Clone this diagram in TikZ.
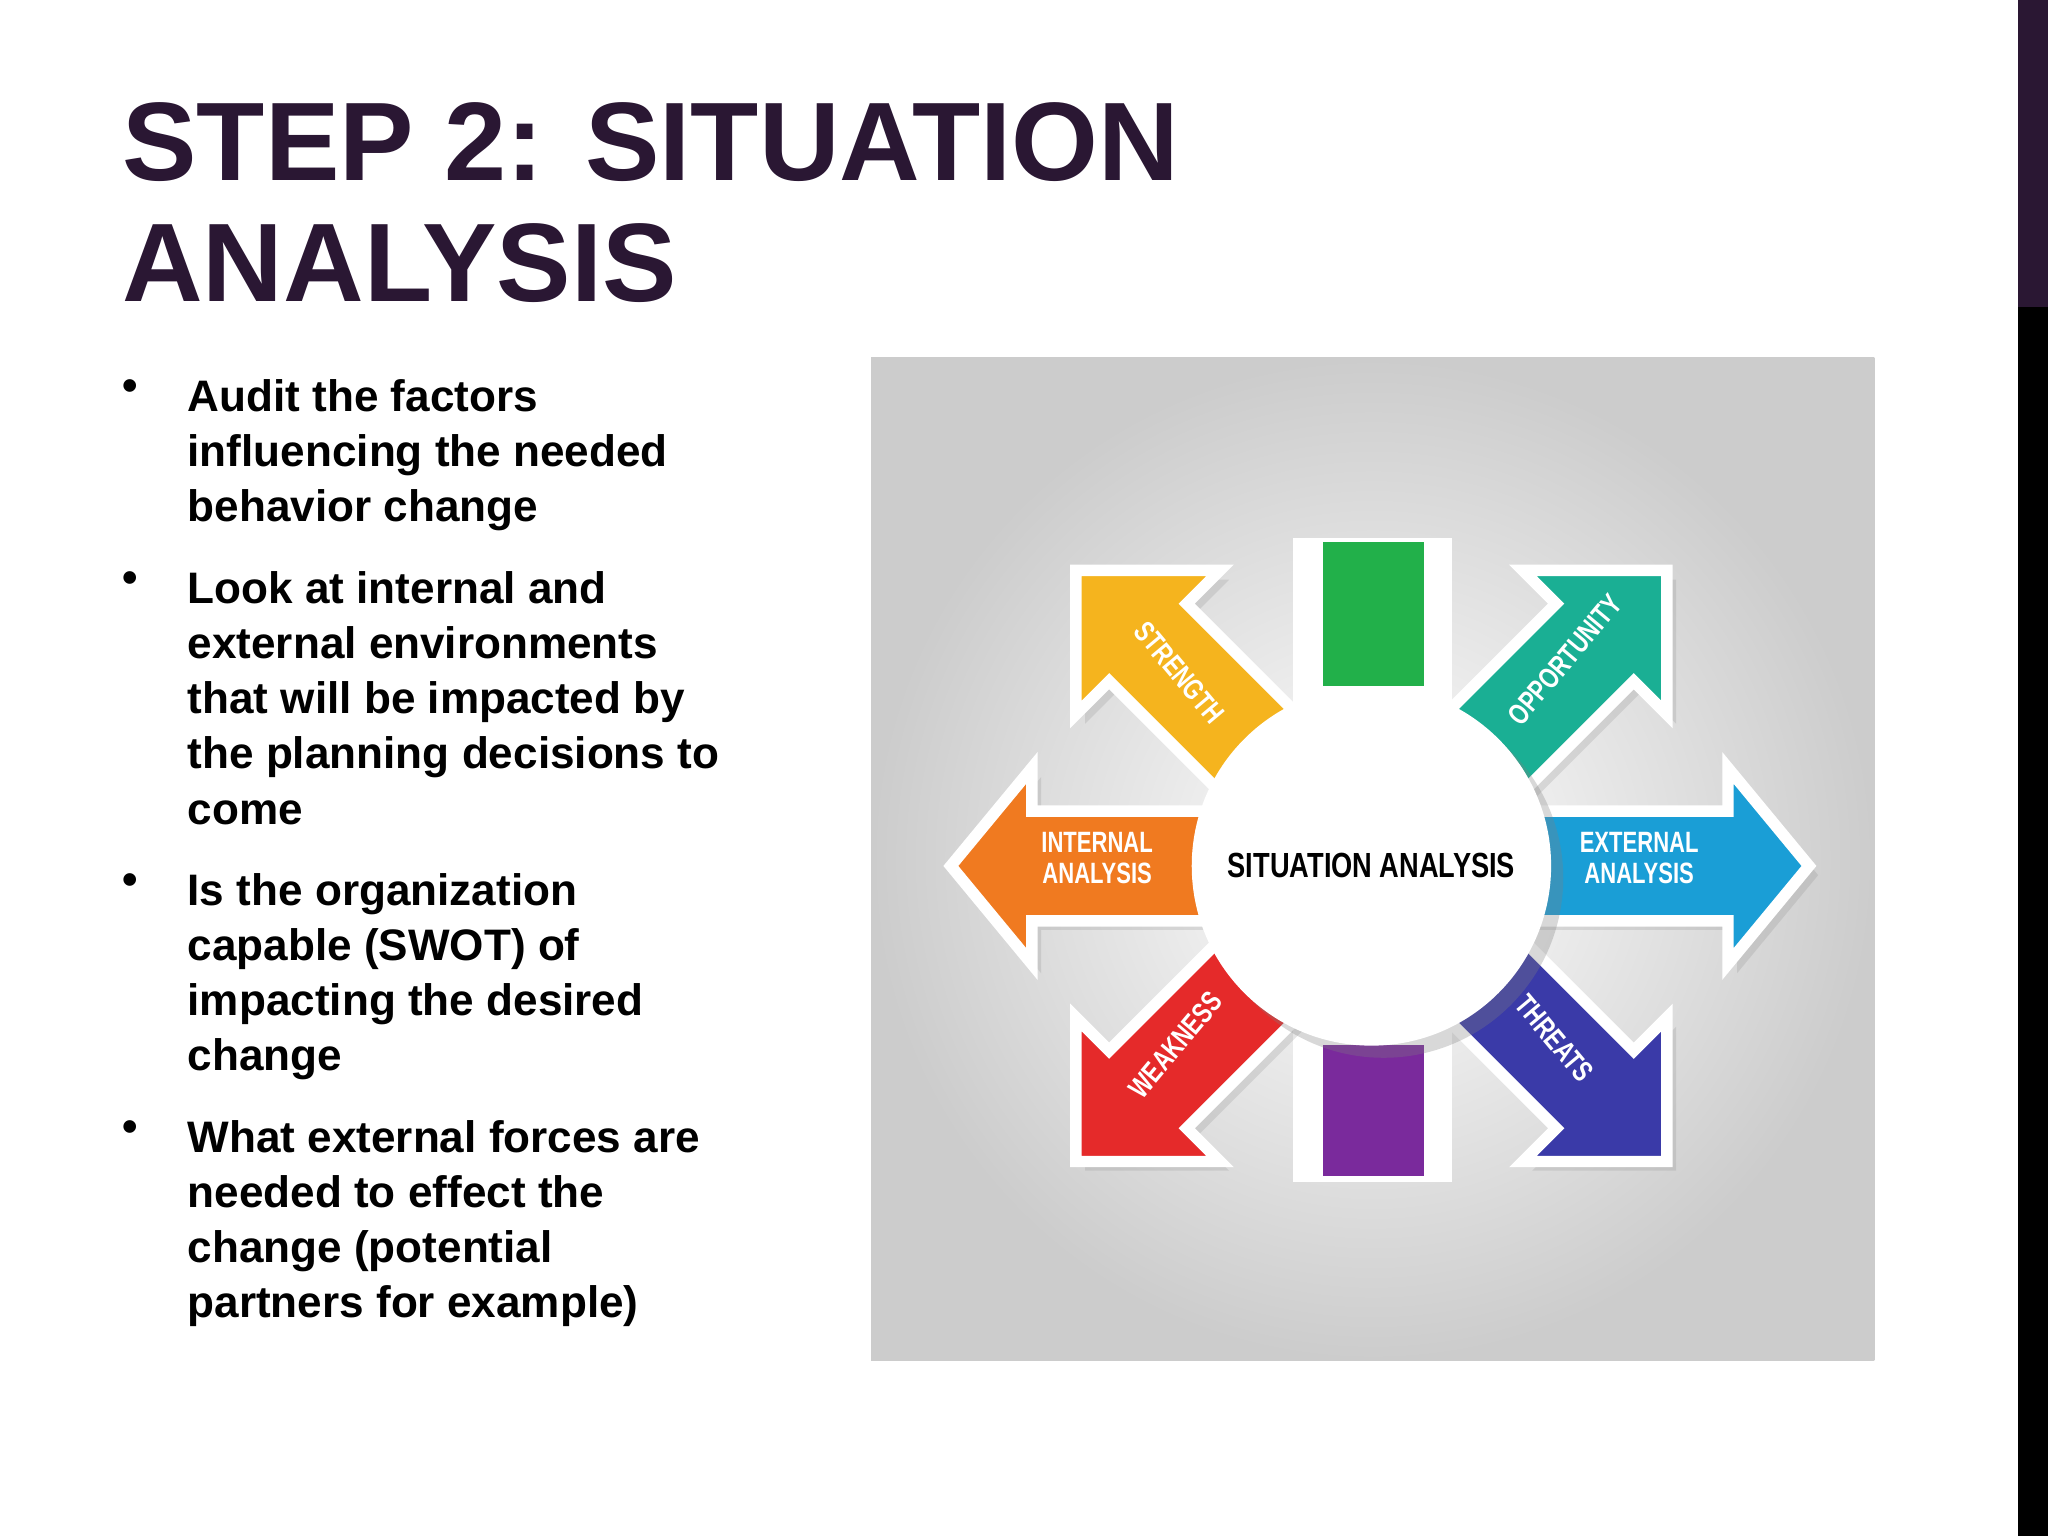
\documentclass[tikz,border=0pt]{standalone}
\usepackage{fontspec}
\setmainfont{Liberation Sans}
\usetikzlibrary{shadows}
\definecolor{ttl}{HTML}{2A1733}
\definecolor{cg}{HTML}{22B04A}
\definecolor{cp}{HTML}{7A2A9C}
\definecolor{cth}{HTML}{3A3AA8}
\definecolor{cop}{HTML}{1AAF94}
\definecolor{cex}{HTML}{1A9ED6}
\definecolor{cin}{HTML}{F07A20}
\definecolor{cst}{HTML}{F5B41E}
\definecolor{cwe}{HTML}{E52A2A}
\begin{document}
\begin{tikzpicture}[x=0.01cm,y=-0.01cm,
  lbl/.style={text=white,font=\bfseries\fontsize{6.4}{6.8}\selectfont,align=center,inner sep=0pt},
  bul/.style={anchor=north west,align=left,font=\bfseries\fontsize{9.6}{12}\selectfont,inner sep=0pt}]
\fill[white] (0,0) rectangle (1568,1176);
\useasboundingbox (0,0) rectangle (1568,1176);
\fill[ttl] (1545,0) rectangle (1568,235);
\fill[black] (1545,235) rectangle (1568,1176);
\node[anchor=base west,inner sep=0pt,text=ttl,font=\bfseries\fontsize{24.3}{25}\selectfont] (t1) at (93,138) {STEP 2: SITUATION};
\node[anchor=base west,inner sep=0pt,text=ttl,font=\bfseries\fontsize{24.3}{25}\selectfont] (t2) at (93,231) {ANALYSIS};
\foreach \y/\t [count=\i] in {290/{Audit the factors\\influencing the needed\\behavior change},
  437/{Look at internal and\\external environments\\that will be impacted by\\the planning decisions to\\come},
  668/{Is the organization\\capable (SWOT) of\\impacting the desired\\change},
  857/{What external forces are\\needed to effect the\\change (potential\\partners for example)}}{
  \node[bul] (b\i) at (143,\y) {\t};
  \node[anchor=north,inner sep=0pt,font=\bfseries\fontsize{9.6}{12}\selectfont] (d\i) at (100,\y) {•};
}
% picture box
\shade[inner color=white,outer color=gray!40] (667,274) rectangle (1435,1042);
% white backdrop of bars
\fill[white] (990,412) rectangle (1112,905);
\fill[cg] (1013,415) rectangle (1090,525);
\fill[cp] (1013,800) rectangle (1090,900);
% arrows
\def\arr#1#2#3#4#5{%
 \begin{scope}[shift={(1050,663)},rotate=#1]
  \filldraw[draw=white,line width=2.5pt,fill=#2,drop shadow={opacity=0.2,shadow xshift=2pt,shadow yshift=-2pt}]
   (100,-42) -- (#3-#4,-42) -- (#3-#4,-#5) -- (#3,0) -- (#3-#4,#5) -- (#3-#4,42) -- (100,42) -- cycle;
 \end{scope}}
\arr{180}{cin}{322}{62}{75}
\arr{0}{cex}{335}{62}{75}
\arr{135}{cst}{320}{78}{78}
\arr{45}{cop}{320}{78}{78}
\arr{225}{cwe}{320}{78}{78}
\arr{315}{cth}{320}{78}{78}
\node[circle,fill=white,minimum size=2.75cm,inner sep=0pt,drop shadow={opacity=0.3}] (c) at (1050,663) {};
\node[font=\bfseries\fontsize{7.6}{8}\selectfont] (ct) at (1050,663) {\scalebox{0.78}[1]{SITUATION ANALYSIS}};
\node[lbl] (l1) at (840,657) {\scalebox{0.75}[1]{INTERNAL}\\\scalebox{0.75}[1]{ANALYSIS}};
\node[lbl] (l2) at (1255,657) {\scalebox{0.75}[1]{EXTERNAL}\\\scalebox{0.75}[1]{ANALYSIS}};
\node[lbl,rotate=-50] (l3) at (903,515) {\scalebox{0.75}[1]{STRENGTH}};
\node[lbl,rotate=50] (l4) at (1198,505) {\scalebox{0.75}[1]{OPPORTUNITY}};
\node[lbl,rotate=50] (l5) at (900,800) {\scalebox{0.75}[1]{WEAKNESS}};
\node[lbl,rotate=-50] (l6) at (1190,795) {\scalebox{0.75}[1]{THREATS}};
\end{tikzpicture}
\end{document}
